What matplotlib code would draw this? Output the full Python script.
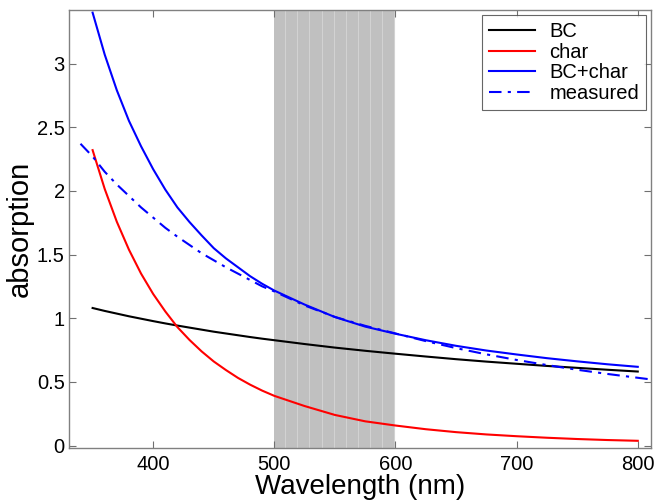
import numpy as np
import matplotlib
matplotlib.use('Agg')
import matplotlib.pyplot as plt

plt.rcParams['font.family'] = ['Liberation Sans', 'DejaVu Sans']

# wavelengths (nm)
wl = [350, 360, 370, 380, 390, 400, 410, 420, 430, 440, 450, 460, 470, 480, 490, 500,
      525, 550, 575, 600, 625, 650, 675, 700, 725, 750, 775, 800]
bc = [1.08, 1.057, 1.036, 1.015, 0.996, 0.977, 0.959, 0.942, 0.926, 0.910, 0.894,
      0.880, 0.866, 0.852, 0.839, 0.827,
      0.797, 0.769, 0.744, 0.721, 0.699, 0.678, 0.659, 0.642, 0.625, 0.610, 0.595, 0.581]
char = [2.32, 2.015, 1.757, 1.538, 1.350, 1.19, 1.053, 0.93, 0.829, 0.739, 0.66,
        0.593, 0.531, 0.478, 0.431, 0.39,
        0.31, 0.24, 0.19, 0.157, 0.128, 0.105, 0.087, 0.073, 0.061, 0.051, 0.043, 0.037]
bc_char = [3.40, 3.07, 2.79, 2.55, 2.35, 2.17, 2.01, 1.87, 1.755, 1.65, 1.55,
           1.47, 1.40, 1.33, 1.27, 1.217,
           1.107, 1.009, 0.934, 0.878, 0.827, 0.783, 0.746, 0.715, 0.686, 0.661, 0.638, 0.618]

wl_meas = [340, 350, 360, 370, 380, 390, 400, 410, 420, 430, 440, 450, 460, 470, 480, 490,
           500, 525, 550, 575, 600, 625, 650, 675, 700, 725, 750, 775, 800, 810]
measured = [2.37, 2.27, 2.15, 2.05, 1.96, 1.87, 1.79, 1.71, 1.64, 1.575, 1.51, 1.455,
            1.40, 1.35, 1.30, 1.25,
            1.21, 1.10, 1.01, 0.94, 0.88, 0.82, 0.765, 0.716, 0.672, 0.632, 0.595,
            0.562, 0.532, 0.52]

band = (500, 600)
xticks = [400, 500, 600, 700, 800]
yticks = [0, 0.5, 1, 1.5, 2, 2.5, 3]

fig = plt.figure(figsize=(6.57, 5.04), dpi=100)
ax = fig.add_axes([0.105, 0.111, 0.886, 0.869])

# shaded band
ax.axvspan(band[0], band[1], color='#c0c0c0', lw=0, zorder=0)
for xv in np.arange(band[0] + 9, band[1], 10):
    ax.axvline(xv, color='#d2d2d2', lw=0.8, zorder=0.5)

ax.plot(wl, bc, color='black', lw=1.5, label='BC')
ax.plot(wl, char, color='red', lw=1.5, label='char')
ax.plot(wl, bc_char, color='blue', lw=1.5, label='BC+char')
ax.plot(wl_meas, measured, color='blue', lw=1.5, ls=(0, (6, 3, 1.5, 3)), label='measured')

ax.set_xlim(330.5, 811)
ax.set_ylim(-0.02, 3.42)
ax.set_xticks(xticks)
ax.set_yticks(yticks)
ax.set_yticklabels(['0', '0.5', '1', '1.5', '2', '2.5', '3'])
ax.tick_params(direction='in', top=True, right=True, labelsize=14.5, length=5,
               color='#707070')
ax.tick_params(axis='x', pad=5)
ax.tick_params(axis='y', pad=3)
for s in ax.spines.values():
    s.set_color('#808080')
    s.set_linewidth(1.0)

ax.set_xlabel('Wavelength (nm)', fontsize=20, labelpad=0)
ax.set_ylabel('absorption', fontsize=21, labelpad=2)

leg = ax.legend(loc='upper right', fontsize=14.5, frameon=True, fancybox=False,
                edgecolor='#404040', handlelength=2.3, borderpad=0.35,
                labelspacing=0.08, handletextpad=0.7, borderaxespad=0.25)
leg.get_frame().set_linewidth(0.8)

fig.savefig('out.png', dpi=100)
